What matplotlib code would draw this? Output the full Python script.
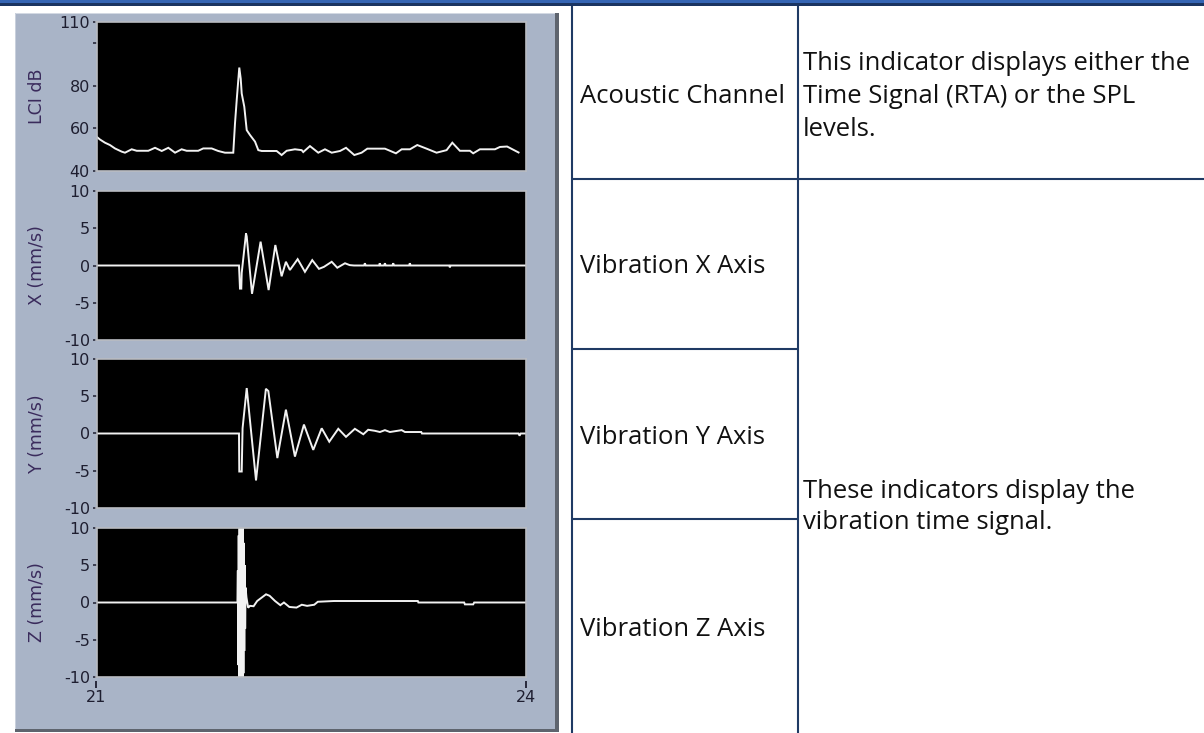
import matplotlib
matplotlib.use('Agg')
import matplotlib.pyplot as plt
from matplotlib.patches import Rectangle
from matplotlib.lines import Line2D

plt.rcParams['font.family'] = ['DejaVu Sans']
plt.rcParams['axes.unicode_minus'] = False

# ---- DATA ----
t_lci = [21.001, 21.024, 21.059, 21.094, 21.129, 21.176, 21.199, 21.246, 21.281, 21.362,
         21.409, 21.456, 21.502, 21.549, 21.595, 21.630, 21.711, 21.746, 21.805, 21.851,
         21.898, 21.956, 21.968, 21.980, 21.991, 21.998, 22.008, 22.015, 22.033, 22.050,
         22.073, 22.108, 22.131, 22.155, 22.259, 22.294, 22.329, 22.387, 22.434, 22.445,
         22.492, 22.550, 22.597, 22.644, 22.702, 22.744, 22.802, 22.853, 22.893, 23.016,
         23.093, 23.133, 23.191, 23.242, 23.307, 23.377, 23.447, 23.487, 23.540, 23.610,
         23.633, 23.680, 23.785, 23.82, 23.87, 23.95]
lci_db = [56.1, 54.8, 53.3, 52.2, 50.6, 49.1, 48.6, 50.2, 49.5, 49.5,
          50.9, 49.4, 50.9, 48.6, 50.2, 49.5, 49.5, 50.6, 50.6, 49.4,
          48.6, 48.6, 62.3, 73.3, 82.7, 88.6, 83.4, 76.4, 70.2, 59.2,
          56.9, 53.8, 49.8, 49.4, 49.4, 47.5, 49.5, 50.2, 49.8, 48.9,
          51.7, 48.6, 50.2, 48.6, 49.4, 50.9, 47.5, 48.6, 50.5, 50.5,
          48.3, 50.2, 50.2, 52.2, 50.5, 48.6, 49.8, 53.3, 49.5, 49.5,
          48.3, 50.2, 50.2, 51.3, 51.5, 48.7]

t_x = [21.0, 21.996, 21.999, 22.003, 22.012, 22.015, 22.026, 22.045, 22.05, 22.087,
       22.147, 22.203, 22.25, 22.294, 22.324, 22.352, 22.406, 22.457, 22.508, 22.555,
       22.59, 22.644, 22.683, 22.737, 22.77, 22.80, 22.87, 22.876, 22.882, 22.975,
       22.98, 22.985, 23.01, 23.016, 23.022, 23.068, 23.074, 23.08, 23.185, 23.19,
       23.196, 23.465, 23.47, 23.475, 24.0]
vel_x = [0, 0, -1.3, -3.1, -3.1, -1.0, 0.95, 4.3, 3.9, -3.8,
         3.2, -3.3, 2.75, -1.45, 0.5, -0.6, 0.85, -0.85, 0.72, -0.45,
         -0.18, 0.5, -0.3, 0.3, 0.05, 0, 0, 0.3, 0, 0,
         0.3, 0, 0, 0.3, 0, 0, 0.3, 0, 0, 0.3,
         0, 0, -0.25, 0, 0]

t_y = [21.0, 21.996, 21.998, 22.015, 22.021, 22.050, 22.115, 22.184, 22.201, 22.264,
       22.324, 22.387, 22.450, 22.515, 22.574, 22.627, 22.690, 22.744, 22.806, 22.865,
       22.899, 22.946, 22.981, 23.016, 23.051, 23.133, 23.156, 23.27, 23.275, 23.95,
       23.957, 23.965, 24.0]
vel_y = [0, 0, -5.1, -5.1, 0.7, 6.1, -6.3, 6.0, 5.7, -3.3,
         3.2, -3.1, 1.2, -2.2, 0.7, -1.1, 0.63, -0.45, 0.63, -0.1,
         0.5, 0.36, 0.2, 0.45, 0.2, 0.45, 0.2, 0.2, 0, 0,
         -0.3, 0, 0]

t_z = [21.0, 21.985, 21.988, 21.991, 21.994, 21.997, 22.000, 22.003, 22.006, 22.009,
       22.012, 22.015, 22.018, 22.021, 22.024, 22.027, 22.030, 22.033, 22.036, 22.039,
       22.042, 22.048, 22.060, 22.073, 22.098, 22.123, 22.185, 22.210, 22.248, 22.285,
       22.310, 22.348, 22.398, 22.435, 22.472, 22.522, 22.547, 22.660, 23.246, 23.25,
       23.570, 23.575, 23.633, 23.64, 24.0]
vel_z = [0, 0, 4.3, -8.4, 9.0, -10.5, 10.5, -10.5, 10.5, -10.5,
         10.5, -10.5, 10.5, -10.5, 10.5, -9.5, 8.0, -6.5, 5.0, -3.5,
         2.0, 0.7, -0.7, -0.45, -0.5, 0.2, 1.1, 0.9, 0.2, -0.36,
         0.0, -0.6, -0.68, -0.3, -0.45, -0.3, 0.1, 0.2, 0.2, 0.0,
         0.0, -0.25, -0.25, 0, 0]

y_labels = ['LCI dB', 'X (mm/s)', 'Y (mm/s)', 'Z (mm/s)']
x_ticks = [21, 24]
lci_ticks = [40, 60, 80, 100, 110]
lci_tick_labels = ['40', '60', '80', '', '110']
vib_ticks = [-10, -5, 0, 5, 10]

channel_names = ['Acoustic Channel', 'Vibration X Axis', 'Vibration Y Axis', 'Vibration Z Axis']
desc_top = ['This indicator displays either the', 'Time Signal (RTA) or the SPL', 'levels.']
desc_vib = ['These indicators display the', 'vibration time signal.']

# ---- FIGURE ----
W, H = 1204, 733
fig = plt.figure(figsize=(W / 100, H / 100), dpi=100, facecolor='white')


def fx(x):
    return x / W


def fy(y):
    return 1 - y / H


def rect(x0, y0, x1, y1, color, z=-5):
    fig.patches.append(Rectangle((fx(x0), fy(y1)), (x1 - x0) / W, (y1 - y0) / H,
                                 transform=fig.transFigure, facecolor=color,
                                 edgecolor='none', zorder=z))


def line(x0, y0, x1, y1, color='#1F3A64', lw=1.5):
    fig.lines.append(Line2D([fx(x0), fx(x1)], [fy(y0), fy(y1)], transform=fig.transFigure,
                            color=color, lw=lw, solid_capstyle='butt'))


# banner at the top
rect(0, 0, W, 2.7, '#3565B4', z=3)
rect(0, 2.7, W, 6, '#1A3461', z=3)

# gray-blue instrument panel with shadow
rect(15, 13, 559, 732, '#5E646E')
rect(15, 13, 555, 729, '#A9B4C7')
rect(15, 13, 555, 14.2, '#D3D9E3')
rect(15, 13, 16.2, 729, '#C9D0DC')

# ---- PLOTS ----
AX_L, AX_R, AX_H = 96.5, 525.7, 149
tops = [22, 191, 359, 528]
series = [(t_lci, lci_db), (t_x, vel_x), (t_y, vel_y), (t_z, vel_z)]
tick_col = '#1E1E30'

axes = []
for i, top in enumerate(tops):
    ax = fig.add_axes([fx(AX_L), fy(top + AX_H), (AX_R - AX_L) / W, AX_H / H])
    ax.set_facecolor('black')
    t, v = series[i]
    ax.plot(t, v, color='#F2F2F2', lw=1.4, solid_joinstyle='miter')
    ax.set_xlim(21, 24)
    if i == 0:
        ax.set_ylim(40, 110)
        ax.set_yticks(lci_ticks)
        ax.set_yticklabels(lci_tick_labels)
    else:
        ax.set_ylim(-10, 10)
        ax.set_yticks(vib_ticks)
    ax.set_xticks([])
    for s in ax.spines.values():
        s.set_color('#B9BCC2')
        s.set_linewidth(1.2)
    ax.tick_params(axis='y', direction='out', length=3.2, width=1.1, color=tick_col,
                   labelcolor=tick_col, labelsize=11.5, pad=1.5)
    fig.text(fx(37.5), fy(top + AX_H / 2), y_labels[i], rotation=90, ha='center',
             va='center', color='#3A2B5C', fontsize=12.5)
    axes.append(ax)

sec = axes[-1].secondary_xaxis(-0.03)
sec.set_xticks(x_ticks)
sec.set_xticklabels([str(v) for v in x_ticks])
for s in sec.spines.values():
    s.set_visible(False)
sec.tick_params(direction='out', length=5, width=1.3, color=tick_col, labelcolor=tick_col,
                labelsize=11.5, pad=1.5)

# ---- TABLE ----
C0, C1 = 572, 797.5
line(C0, 6, C0, H)
line(C1, 6, C1, H)
line(C0, 179, W, 179)
line(C0, 349, C1, 349)
line(C0, 519, C1, 519)

tf = dict(family=['Open Sans', 'DejaVu Sans'], color='#111111', va='baseline', ha='left')
probe = fig.text(fx(803), fy(70), desc_top[0], fontsize=18, **tf)
fig.canvas.draw()
w = probe.get_window_extent().width
fsize = 18 * 387 / w
probe.set_fontsize(fsize)

for j, s in enumerate(desc_top[1:]):
    fig.text(fx(803), fy(103 + 33 * j), s, fontsize=fsize, **tf)
for name, base in zip(channel_names, [103, 273.5, 443.5, 636]):
    fig.text(fx(580), fy(base), name, fontsize=fsize, **tf)
for j, s in enumerate(desc_vib):
    fig.text(fx(803), fy(498 + 31 * j), s, fontsize=fsize, **tf)

fig.savefig('out.png', dpi=100, facecolor='white')
